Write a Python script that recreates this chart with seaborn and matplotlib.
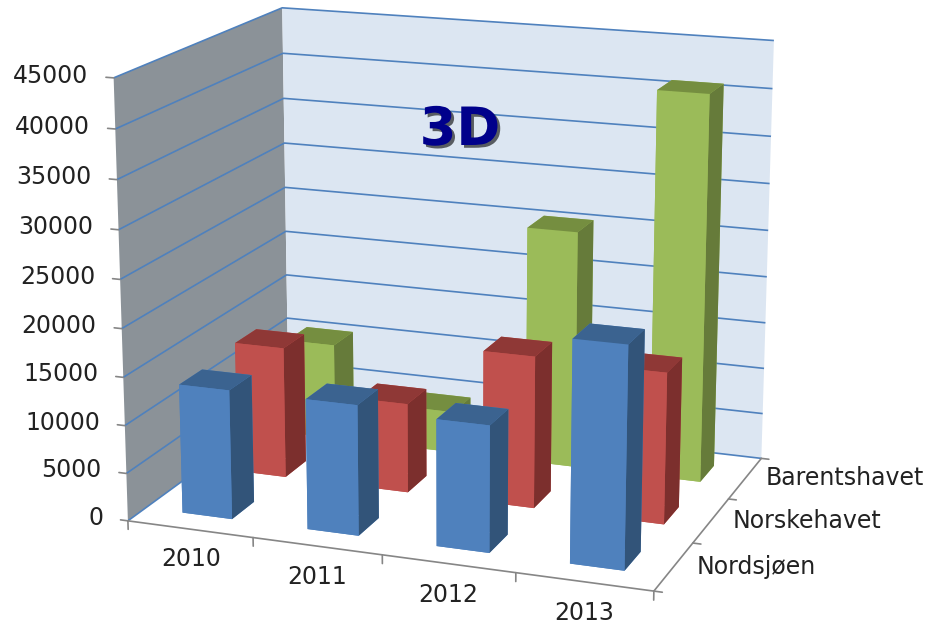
import numpy as np
import matplotlib
matplotlib.use("Agg")
import matplotlib.pyplot as plt
import matplotlib.patheffects as pe
from mpl_toolkits.mplot3d import proj3d
import seaborn as sns

years = ["2010", "2011", "2012", "2013"]
seas = ["Nordsjøen", "Norskehavet", "Barentshavet"]
nordsjoen = [13500, 13500, 13000, 22500]
norskehavet = [14000, 9500, 16000, 15800]
barentshavet = [10500, 4500, 25500, 41000]
z_ticks = [0, 5000, 10000, 15000, 20000, 25000, 30000, 35000, 40000, 45000]

# front, side and top shade for each series
shades = [
    ("#4F81BD", "#325479", "#3B6390"),
    ("#C0504D", "#7C2F2D", "#8F3836"),
    ("#9BBB59", "#667B3A", "#758E40"),
]
values = [nordsjoen, norskehavet, barentshavet]

sns.set_theme(style="white")
plt.rcParams["font.family"] = ["DejaVu Sans"]

fig = plt.figure(figsize=(9.3, 6.27), dpi=100)
ax = fig.add_axes([-0.0205, 0.043, 1, 1], projection="3d", computed_zorder=False)
ax.set_proj_type("persp", focal_length=0.85)
ax.view_init(elev=15.5, azim=-69.8)
ax.set_box_aspect((3.76, 2.78, 3.1), zoom=1.25)

ax.set_xlim(0, 4, view_margin=0)
ax.set_ylim(0, 3, view_margin=0)
ax.set_zlim(0, 45000, view_margin=0)
ax.set_xticks(range(5))
ax.set_yticks(range(4))
ax.set_zticks(z_ticks)
ax.tick_params(length=0, color="none")
ax.set_xticklabels([])
ax.set_yticklabels([])
ax.set_zticklabels([])

ax.xaxis.set_pane_color("#8B9298")
ax.yaxis.set_pane_color("#DCE6F2")
ax.zaxis.set_pane_color("white")
for axis in (ax.xaxis, ax.yaxis, ax.zaxis):
    axis.line.set_color("none")
    axis.pane.set_edgecolor("none")
ax.xaxis._axinfo["grid"].update(linewidth=0, color="none")
ax.yaxis._axinfo["grid"].update(linewidth=0, color="none")
ax.zaxis._axinfo["grid"].update(linewidth=1.2, color="#4F81BD")

bar_w = 0.4
bar_d = 0.4
for s in [2, 1, 0]:
    for i in range(4):
        front, side, top = shades[s]
        # bar3d face order: bottom, top, front, back, left, right
        face = [front, top, front, front, front, side]
        ax.bar3d(i + 0.5 - bar_w / 2, s + 0.5 - bar_d / 2, 0,
                 bar_w, bar_d, values[s][i],
                 color=face, shade=False, linewidth=0, edgecolor="none", zorder=10 + (2 - s) * 5 + i)

# floor axes and tick marks
grey = "#868686"
ax.plot([0, 4], [0, 0], [0, 0], color=grey, lw=1.2, zorder=40, clip_on=False)
ax.plot([4, 4], [0, 3], [0, 0], color=grey, lw=1.2, zorder=40, clip_on=False)
for i in range(5):
    ax.plot([i, i], [0, 0], [0, -900], color=grey, lw=1.2, zorder=40, clip_on=False)
for s in range(4):
    ax.plot([4, 4.06], [s, s], [0, 0], color=grey, lw=1.2, zorder=40, clip_on=False)
for z in z_ticks:
    ax.plot([0, -0.06], [0, 0], [z, z], color=grey, lw=1.2, zorder=40, clip_on=False)


def label(x, y, z, text, **kw):
    # 3D point to the flat axes coordinates, so the text stays plain 2D
    px, py, _ = proj3d.proj_transform(x, y, z, ax.get_proj())
    ax.text2D(px, py, text, transform=ax.transData, fontsize=17, color="#222222", va="center", zorder=41, **kw)


for z in z_ticks:
    label(-0.2, 0, z, str(z), ha="right")
for i, y in enumerate(years):
    label(i + 0.5, 0, -3200, y, ha="center")
for s, name in enumerate(seas):
    label(4.15, s + 0.55, 0, name, ha="left")

fig.text(460 / 930, 1 - 130 / 627, "3D", fontsize=38, fontweight="bold", color="#00008B",
         ha="center", va="center",
         path_effects=[pe.withSimplePatchShadow(offset=(2, -2), shadow_rgbFace="black", alpha=0.6)])

fig.savefig("out.png", dpi=100)
